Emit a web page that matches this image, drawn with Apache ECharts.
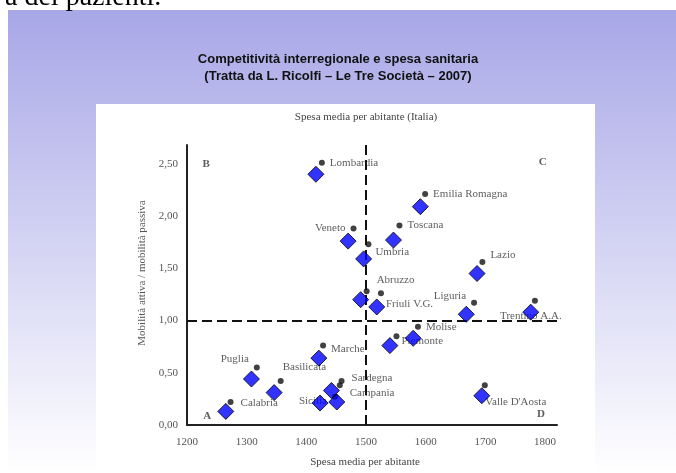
<!DOCTYPE html>
<html>
<head>
    <meta charset="utf-8">
    <title>Competitività interregionale e spesa sanitaria</title>
    <script src="https://cdn.jsdelivr.net/npm/echarts@6/dist/echarts.min.js"></script>
    <style>
        body { margin: 0; background: #fff; }
        #chart1 { width: 676px; height: 473px; }
    </style>
</head>
<body>
<div id="chart1"></div>
<script type="text/javascript">
    // regioni (punti neri con etichetta, dal grafico di Ricolfi)
    var regioni = ['Lombardia', 'Emilia Romagna', 'Toscana', 'Veneto', 'Umbria', 'Lazio',
        'Abruzzo', 'Friuli V.G.', 'Liguria', 'Trentino A.A.', 'Molise', 'Piemonte', 'Marche',
        'Sardegna', 'Campania', 'Sicilia', 'Puglia', 'Basilicata', 'Calabria', "Valle D'Aosta"];
    var spesa = [1426, 1599, 1556, 1479, 1504, 1695, 1501, 1525, 1681, 1783, 1587, 1551, 1428,
        1459, 1456, 1448, 1317, 1357, 1273, 1699];
    var mobilita = [2.51, 2.21, 1.91, 1.88, 1.73, 1.56, 1.28, 1.26, 1.17, 1.19, 0.94, 0.85, 0.76,
        0.42, 0.38, 0.27, 0.55, 0.42, 0.22, 0.38];

    // rombi blu sovrapposti
    var spesaRombi = [1416, 1591, 1546, 1470, 1496, 1686, 1491, 1518, 1668, 1776, 1579, 1540, 1421,
        1442, 1451, 1423, 1308, 1346, 1265, 1694];
    var mobilitaRombi = [2.40, 2.09, 1.77, 1.76, 1.59, 1.45, 1.20, 1.13, 1.06, 1.08, 0.83, 0.76, 0.64,
        0.33, 0.22, 0.21, 0.44, 0.31, 0.13, 0.28];

    // quadranti
    var quadranti = ['A', 'B', 'C', 'D'];
    var quadX = [1234, 1232, 1796, 1793];
    var quadY = [0.085, 2.5, 2.52, 0.10];

    var xTicks = [1200, 1800, 100];   // min, max etichette, passo
    var yTicks = [0, 2.5, 0.5];
    var mediaItalia = 1500;

    // posizione delle etichette
    var lab = {
        'Veneto': ['left', [0, 0]],
        'Umbria': ['right', [-1, 8]],
        'Lazio': ['right', [0, -7]],
        'Abruzzo': ['right', [2, -11]],
        'Friuli V.G.': ['right', [-3, 11]],
        'Liguria': ['left', [0, -7]],
        'Trentino A.A.': ['bottom', [-4, 2]],
        'Piemonte': ['right', [-3, 5]],
        'Marche': ['right', [0, 4]],
        'Sardegna': ['right', [2, -3]],
        'Campania': ['right', [2, 8]],
        'Sicilia': ['left', [0, 4]],
        'Puglia': ['left', [0, -8]],
        'Basilicata': ['right', [-6, -14]],
        'Calabria': ['right', [2, 1]],
        "Valle D'Aosta": ['bottom', [31, 3]]
    };

    var puntiNeri = regioni.map(function (r, i) {
        var p = lab[r] || ['right', [0, 0]];
        return {name: r, value: [spesa[i], mobilita[i]], label: {position: p[0], offset: p[1]}};
    });
    var rombi = spesaRombi.map(function (x, i) { return [x, mobilitaRombi[i]]; });
    var lettere = quadranti.map(function (q, i) { return {name: q, value: [quadX[i], quadY[i]]}; });

    var serif = 'Liberation Serif';
    var myChart1 = echarts.init(document.getElementById('chart1'));
    myChart1.setOption({
        animation: false,
        graphic: [
            {type: 'rect', z: -10, shape: {x: 8, y: 10, width: 668, height: 463},
                style: {fill: new echarts.graphic.LinearGradient(0, 0, 0, 1, [
                    {offset: 0, color: '#a8a7e7'}, {offset: 1, color: '#ffffff'}])}},
            {type: 'rect', z: -9, shape: {x: 96, y: 104, width: 499, height: 369}, style: {fill: '#fff'}},
            {type: 'text', z: -8, x: 5, y: 12,
                style: {text: 'a dei pazienti.', font: '28px "Liberation Serif"', fill: '#000', verticalAlign: 'bottom'}}
        ],
        title: {
            text: 'Competitività interregionale e spesa sanitaria\n(Tratta da L. Ricolfi – Le Tre Società – 2007)',
            left: 'center',
            top: 46,
            textStyle: {fontFamily: 'Liberation Sans', fontSize: 13, fontWeight: 'bold', color: '#111', lineHeight: 17}
        },
        grid: {left: 187, right: 119, top: 145, bottom: 45},
        xAxis: {
            type: 'value', min: xTicks[0], max: 1820, interval: xTicks[2],
            name: 'Spesa media per abitante', nameLocation: 'middle', nameGap: 32,
            nameTextStyle: {fontFamily: serif, fontSize: 11, color: '#444', padding: [0, 14, 0, 0]},
            axisLine: {lineStyle: {color: '#222', width: 2}},
            axisTick: {show: false},
            splitLine: {show: false},
            axisLabel: {fontFamily: serif, fontSize: 11, color: '#555', margin: 12, showMaxLabel: false,
                formatter: function (v) { return String(v); }}
        },
        yAxis: {
            type: 'value', min: yTicks[0], max: 2.68, interval: yTicks[2],
            name: 'Mobilità attiva / mobilità passiva', nameLocation: 'middle', nameGap: 38,
            nameTextStyle: {fontFamily: serif, fontSize: 11, color: '#555', padding: [0, 0, 0, 24]},
            axisLine: {show: true, lineStyle: {color: '#222', width: 2}},
            axisTick: {show: false},
            splitLine: {show: false},
            axisLabel: {fontFamily: serif, fontSize: 11, color: '#555', margin: 9, showMaxLabel: false,
                formatter: function (v) { return v.toFixed(2).replace('.', ','); }}
        },
        series: [
            {
                name: 'Regioni', type: 'scatter', symbol: 'circle', symbolSize: 6,
                itemStyle: {color: '#111'},
                label: {show: true, formatter: '{b}', distance: 5, fontFamily: serif, fontSize: 11, color: '#333'},
                data: puntiNeri,
                markLine: {
                    silent: true, symbol: 'none',
                    lineStyle: {color: '#111', width: 2, type: [10, 5]},
                    data: [
                        {xAxis: mediaItalia, label: {show: true, position: 'end', distance: 22,
                            formatter: 'Spesa media per abitante (Italia)', fontFamily: serif, fontSize: 11, color: '#444'}},
                        {yAxis: 1, label: {show: false}}
                    ]
                }
            },
            {
                name: 'Quadranti', type: 'scatter', symbolSize: 0,
                label: {show: true, position: 'inside', formatter: '{b}', fontFamily: serif,
                    fontSize: 11, fontWeight: 'bold', color: '#333'},
                data: lettere
            },
            {
                name: 'Rombi', type: 'scatter', symbol: 'diamond', symbolSize: 16, z: 5,
                itemStyle: {color: '#0000ff', borderColor: '#000', borderWidth: 1},
                data: rombi
            }
        ]
    });
</script>
</body>
</html>
